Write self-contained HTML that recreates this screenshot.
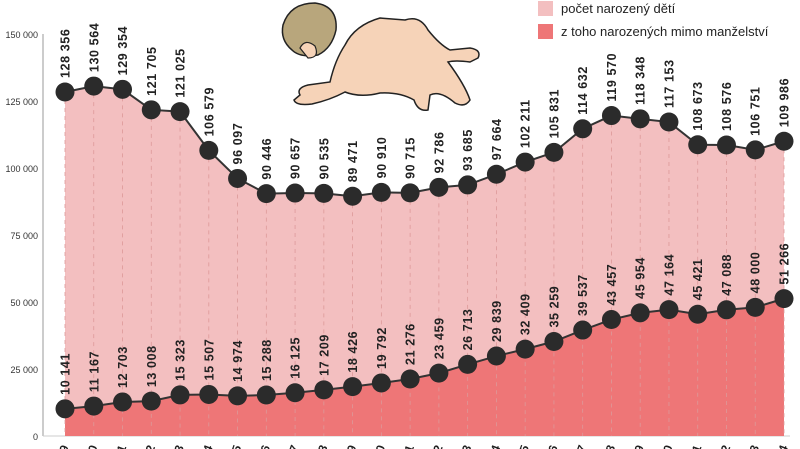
<!DOCTYPE html>
<html><head><meta charset="utf-8"><style>
html,body{margin:0;background:#fff;width:800px;height:449px;overflow:hidden;}
svg{display:block;font-family:"Liberation Sans",sans-serif;overflow:hidden;}
</style></head><body>
<svg id="c" width="800" height="449">
<g id="areas"></g>
<g id="baby">
 <path d="M300 95 Q296 88 308 85 L330 82 Q335 60 345 45 Q355 25 380 18 L405 20 Q420 15 428 30 Q440 45 450 50 L470 48 Q482 50 478 58 L470 62 Q455 60 448 62 Q465 85 470 100 Q465 108 455 103 Q440 90 430 95 L428 110 Q418 112 414 100 Q400 92 380 93 Q360 98 345 92 Q330 100 312 104 Q296 106 294 100 Z" fill="#f6d3b8" stroke="#222" stroke-width="1.5"/>
 <path d="M283 25 Q290 3 315 3 Q338 6 336 30 Q332 48 318 55 Q300 58 292 50 Q280 40 283 25 Z" fill="#b8a67c" stroke="#222" stroke-width="1.5"/>
 <path d="M300 48 Q305 38 315 46 Q320 58 308 58 Z" fill="#f6d3b8" stroke="#222" stroke-width="1.2"/>
</g>
<g>
 <rect x="538" y="1" width="15" height="15" fill="#f3bfc0"/>
 <text x="561" y="13" font-size="13" fill="#222">počet narozený dětí</text>
 <rect x="538" y="24" width="15" height="15" fill="#ee7677"/>
 <text x="561" y="36" font-size="13" fill="#222">z toho narozených mimo manželství</text>
</g>
</svg>
<script>
const years=[1989,1990,1991,1992,1993,1994,1995,1996,1997,1998,1999,2000,2001,2002,2003,2004,2005,2006,2007,2008,2009,2010,2011,2012,2013,2014];
const totalBirths=[128356,130564,129354,121705,121025,106579,96097,90446,90657,90535,89471,90910,90715,92786,93685,97664,102211,105831,114632,119570,118348,117153,108673,108576,106751,109986];
const unmarriedBirths=[10141,11167,12703,13008,15323,15507,14974,15288,16125,17209,18426,19792,21276,23459,26713,29839,32409,35259,39537,43457,45954,47164,45421,47088,48000,51266];
const yTicks=[0,25000,50000,75000,100000,125000,150000];
const NS="http://www.w3.org/2000/svg";
const svg=document.getElementById('c');
const areas=document.getElementById('areas');
const x0=65,x1=784,yBase=436,yTop=34,yMax=150000;
const xs=i=>x0+(x1-x0)*i/(years.length-1);
const ys=v=>yBase-(yBase-yTop)*v/yMax;
const fmt=v=>String(v).replace(/\B(?=(\d{3})+(?!\d))/g,' ');
function mk(t,a){const e=document.createElementNS(NS,t);for(const k in a)e.setAttribute(k,a[k]);return e;}
const gAx=mk('g',{});


svg.insertBefore(gAx,svg.firstChild);
gAx.appendChild(mk('line',{x1:43,x2:43,y1:yTop,y2:yBase,stroke:'#ccc','stroke-width':2}));
gAx.appendChild(mk('line',{x1:43,x2:790,y1:yBase,y2:yBase,stroke:'#ccc','stroke-width':1}));
yTicks.forEach(v=>{const t=mk('text',{x:38,y:ys(v)+4,'text-anchor':'end','font-size':9,fill:'#333'});t.textContent=fmt(v);


gAx.appendChild(t);});
function area(vals,fill,name){
 let d='M'+xs(0)+' '+yBase;vals.forEach((v,i)=>d+=' L'+xs(i)+' '+ys(v));d+=' L'+xs(vals.length-1)+' '+yBase+' Z';
 const p=mk('path',{d,fill});
 
 
 areas.appendChild(p);}
area(totalBirths,'#f3bfc0','area-total');
area(unmarriedBirths,'#ee7677','area-unmarried');
years.forEach((y,i)=>{
 const l=mk('line',{x1:xs(i),x2:xs(i),y1:ys(totalBirths[i]),y2:yBase,stroke:'#d99','stroke-width':0.8,'stroke-dasharray':'4,4'});
 
 
 svg.appendChild(l);
 const t=mk('text',{'font-size':12,'font-weight':'bold',fill:'#222','text-anchor':'end',transform:`translate(${xs(i)+4},${yBase+11}) rotate(-70)`});
 t.textContent=y;
 
 
 svg.appendChild(t);
});
function series(vals,name){
 const pts=vals.map((v,i)=>xs(i)+','+ys(v)).join(' ');
 const pl=mk('polyline',{points:pts,fill:'none',stroke:'#333','stroke-width':2});
 
 
 svg.appendChild(pl);
 vals.forEach((v,i)=>{
  const c=mk('circle',{cx:xs(i),cy:ys(v),r:9.5,fill:'#2b2b2b'});
  
  
  svg.appendChild(c);
  const t=mk('text',{'font-size':12.5,'font-weight':'bold',fill:'#222','letter-spacing':'0.6',transform:`translate(${xs(i)+4.5},${ys(v)-14}) rotate(-90)`});
  t.textContent=fmt(v);
  
  
  svg.appendChild(t);
 });
}
series(totalBirths,'total');
series(unmarriedBirths,'unmarried');
</script>
</body></html>
